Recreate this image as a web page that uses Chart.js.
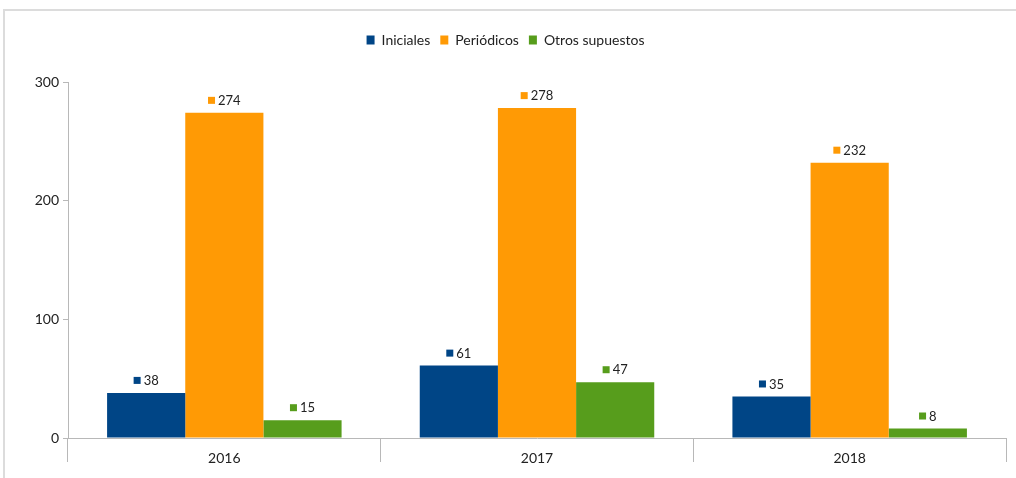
<!DOCTYPE html>
<html>
<head>
<meta charset="utf-8">
<script src="https://cdn.jsdelivr.net/npm/chart.js@4/dist/chart.umd.min.js"></script>
<style>
  html, body { margin: 0; padding: 0; background: #fff; }
  #frame {
    position: absolute; left: 3px; top: 9px;
    width: 1013px; height: 469px;
    border-top: 2px solid #dcdcdc; border-left: 2px solid #dcdcdc;
  }
  #chartCanvas { display: block; }
</style>
</head>
<body>
<div id="frame"><canvas id="chartCanvas" width="1011" height="467"></canvas></div>
<script>
const anios = ["2016", "2017", "2018"];
const iniciales = [38, 61, 35];
const periodicos = [274, 278, 232];
const otrosSupuestos = [15, 47, 8];
const ticksY = [0, 100, 200, 300];

const colores = ["#004586", "#ff9a05", "#579d1c"];

// etiquetas de valor con el cuadradito de color delante
const etiquetasValor = {
    id: "etiquetasValor",
    afterDatasetsDraw(chart) {
        const ctx = chart.ctx;
        ctx.save();
        ctx.font = "13px Lato";
        ctx.textBaseline = "middle";
        chart.data.datasets.forEach((ds, i) => {
            const meta = chart.getDatasetMeta(i);
            meta.data.forEach((bar, j) => {
                const txt = String(ds.data[j]);
                const w = ctx.measureText(txt).width;
                const total = 7 + 3 + w;
                const x0 = bar.x - total / 2;
                const y = bar.y - 12;
                ctx.fillStyle = ds.backgroundColor;
                ctx.fillRect(x0, y - 4, 7, 7);
                ctx.fillStyle = "#222";
                ctx.textAlign = "left";
                ctx.fillText(txt, x0 + 10, y);
            });
        });
        ctx.restore();
    }
};

const espacioLeyenda = {
    id: "espacioLeyenda",
    beforeInit(chart) {
        const fit = chart.legend.fit;
        chart.legend.fit = function () {
            fit.bind(chart.legend)();
            this.height += 25;
        };
    }
};

new Chart(document.getElementById("chartCanvas"), {
    type: "bar",
    data: {
        labels: anios,
        datasets: [
            { label: "Iniciales", data: iniciales, backgroundColor: colores[0] },
            { label: "Periódicos", data: periodicos, backgroundColor: colores[1] },
            { label: "Otros supuestos", data: otrosSupuestos, backgroundColor: colores[2] }
        ]
    },
    plugins: [etiquetasValor, espacioLeyenda],
    options: {
        responsive: false,
        animation: false,
        layout: { padding: { top: 12, right: 10, left: 0, bottom: 0 } },
        datasets: { bar: { categoryPercentage: 0.75, barPercentage: 1.0 } },
        plugins: {
            legend: {
                position: "top",
                labels: {
                    boxWidth: 8, boxHeight: 9, padding: 10,
                    color: "#222",
                    font: { family: "Lato", size: 14 }
                }
            },
            tooltip: { enabled: false }
        },
        scales: {
            x: {
                grid: { drawOnChartArea: false, tickLength: 24, color: "#b8b8b8", offset: true },
                border: { color: "#b8b8b8" },
                ticks: { padding: -12, color: "#222", font: { family: "Lato", size: 14 } },
                afterFit(scale) { scale.height = 40; }
            },
            y: {
                min: 0, max: 300,
                afterBuildTicks(scale) { scale.ticks = ticksY.map(v => ({ value: v })); },
                grid: { drawOnChartArea: false, tickLength: 5, color: "#b8b8b8" },
                border: { color: "#b8b8b8" },
                ticks: { padding: 4, color: "#222", font: { family: "Lato", size: 14 } },
                afterFit(scale) { scale.width = 63; }
            }
        }
    }
});
</script>
</body>
</html>
